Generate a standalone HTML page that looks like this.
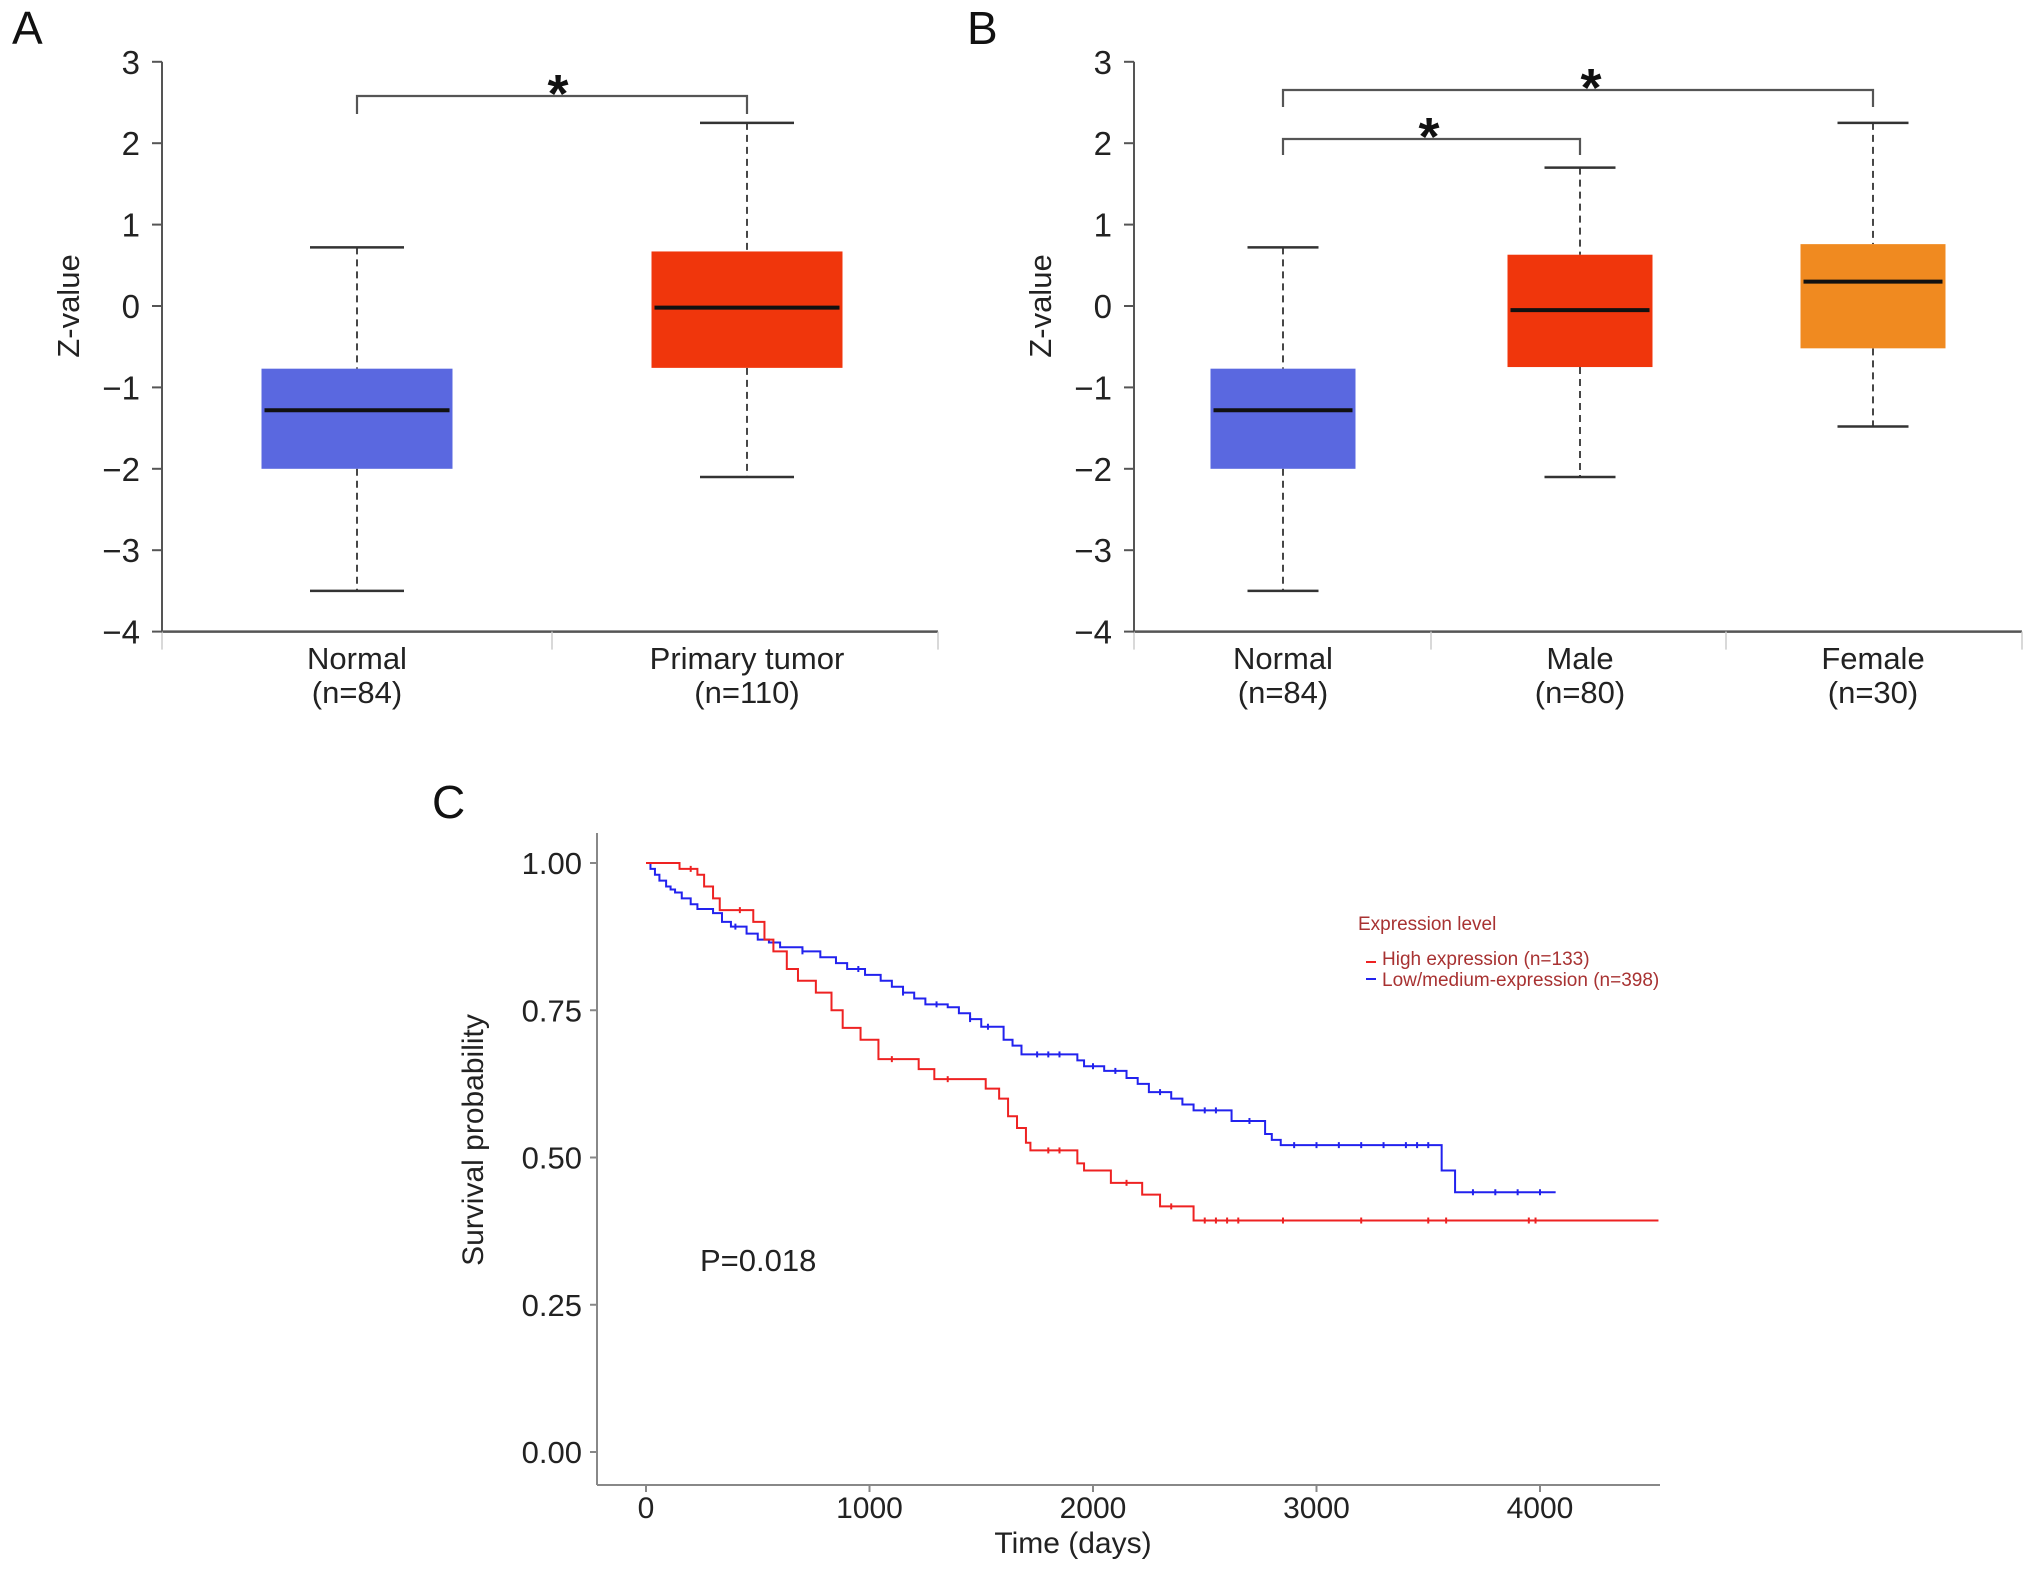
<!DOCTYPE html>
<html><head><meta charset="utf-8">
<style>
html,body{margin:0;padding:0;background:#fff;}
svg{display:block;font-family:"Liberation Sans",Arial,sans-serif;}
</style></head>
<body>
<svg id="fig" width="2032" height="1573" viewBox="0 0 2032 1573" xmlns="http://www.w3.org/2000/svg">
<text x="12" y="44" font-size="46" fill="#111">A</text>
<text x="967" y="44" font-size="46" fill="#111">B</text>
<text x="432" y="818" font-size="46" fill="#111">C</text>
<g id="pa"></g>
<g id="pb"></g>
<g id="pc"></g>
</svg>
<script>
// ---- Panel A data ----
const catsA = ["Normal", "Primary tumor"];
const nA = ["(n=84)", "(n=110)"];
const hiA = [0.72, 2.25];
const q3A = [-0.77, 0.67];
const medA = [-1.28, -0.02];
const q1A = [-2.0, -0.76];
const loA = [-3.5, -2.1];
const colA = ["#5a68e0", "#f0360c"];
// ---- Panel B data ----
const catsB = ["Normal", "Male", "Female"];
const nB = ["(n=84)", "(n=80)", "(n=30)"];
const hiB = [0.72, 1.7, 2.25];
const q3B = [-0.77, 0.63, 0.76];
const medB = [-1.28, -0.05, 0.3];
const q1B = [-2.0, -0.75, -0.52];
const loB = [-3.5, -2.1, -1.48];
const colB = ["#5a68e0", "#f0360c", "#f08a20"];
const zTicks = [3, 2, 1, 0, -1, -2, -3, -4];
// ---- Panel C data ----
const redT = [0,150,230,260,300,330,480,530,570,630,680,760,830,880,960,1040,1220,1290,1520,1580,1620,1660,1700,1720,1930,1960,2080,2220,2300,2450,4530];
const redS = [1.0,0.99,0.98,0.96,0.94,0.92,0.9,0.87,0.85,0.82,0.8,0.78,0.75,0.72,0.7,0.667,0.65,0.633,0.617,0.6,0.57,0.55,0.525,0.512,0.49,0.478,0.457,0.437,0.417,0.393,0.393];
const bluT = [0,20,40,60,90,110,130,160,200,230,300,340,380,450,500,550,600,700,780,850,900,980,1050,1100,1150,1200,1250,1350,1400,1450,1500,1600,1640,1680,1930,1960,2050,2150,2200,2250,2350,2400,2450,2620,2770,2800,2840,3560,3620,4070];
const bluS = [1.0,0.99,0.98,0.97,0.96,0.955,0.95,0.94,0.93,0.922,0.915,0.9,0.892,0.88,0.87,0.865,0.857,0.85,0.84,0.83,0.82,0.81,0.8,0.79,0.78,0.77,0.76,0.755,0.745,0.735,0.722,0.7,0.69,0.675,0.665,0.655,0.647,0.635,0.625,0.611,0.6,0.59,0.58,0.562,0.54,0.53,0.521,0.478,0.441,0.441];
const redCens = [200,420,1100,1350,1800,1850,2150,2350,2500,2550,2600,2650,2850,3200,3500,3580,3950,3980];
const bluCens = [400,700,950,1150,1300,1450,1530,1750,1800,1850,2000,2100,2300,2500,2550,2700,2900,3000,3100,3200,3300,3400,3450,3500,3700,3800,3900,4000];
const survTicks = [1.0, 0.75, 0.5, 0.25, 0.0];
const survTickLabels = ["1.00","0.75","0.50","0.25","0.00"];
const timeTicks = [0,1000,2000,3000,4000];

const NS = "http://www.w3.org/2000/svg";
function mk(parent, tag, attrs, text){
  const e = document.createElementNS(NS, tag);
  for (const k in attrs) e.setAttribute(k, attrs[k]);
  if (text !== undefined) e.textContent = text;
  parent.appendChild(e);
  return e;
}

function boxPanel(g, axX, axEnd, sepXs, centers, cats, ns, hi, q3, med, q1, lo, cols, boxW, capW, tickRight, zlabX, brackets){
  const y = v => 306 - v * 81.4;
  let e = mk(g, "line", {x1:axX, y1:y(3), x2:axX, y2:y(-4), stroke:"#555", "stroke-width":2});
  
  
  e = mk(g, "line", {x1:axX, y1:y(-4), x2:axEnd, y2:y(-4), stroke:"#555", "stroke-width":2.5});
  
  
  sepXs.forEach(sx => {
    const t = mk(g, "line", {x1:sx, y1:y(-4), x2:sx, y2:y(-4)+18, stroke:"#ccc", "stroke-width":1.5});
    
    
  });
  zTicks.forEach(v => {
    const t = mk(g, "line", {x1:axX-10, y1:y(v), x2:axX, y2:y(v), stroke:"#555", "stroke-width":2});
    
    
    const lb = mk(g, "text", {x:tickRight, y:y(v)+12, "font-size":33, "text-anchor":"end", fill:"#222"}, v < 0 ? "\u2212" + Math.abs(v) : String(v));
    
    
  });
  const zl = mk(g, "text", {x:zlabX, y:306, "font-size":31, "text-anchor":"middle", fill:"#222", transform:`rotate(-90 ${zlabX} 306)`, dy:11}, "Z-value");
  
  
  centers.forEach((cx, i) => {
    const w1 = mk(g, "line", {x1:cx, y1:y(hi[i]), x2:cx, y2:y(q3[i]), stroke:"#333", "stroke-width":1.8, "stroke-dasharray":"7,5"});
    
    
    const w2 = mk(g, "line", {x1:cx, y1:y(q1[i]), x2:cx, y2:y(lo[i]), stroke:"#333", "stroke-width":1.8, "stroke-dasharray":"7,5"});
    
    
    const c1 = mk(g, "line", {x1:cx-capW/2, y1:y(hi[i]), x2:cx+capW/2, y2:y(hi[i]), stroke:"#333", "stroke-width":2.5});
    
    
    const c2 = mk(g, "line", {x1:cx-capW/2, y1:y(lo[i]), x2:cx+capW/2, y2:y(lo[i]), stroke:"#333", "stroke-width":2.5});
    
    
    const b = mk(g, "rect", {x:cx-boxW/2, y:y(q3[i]), width:boxW, height:y(q1[i])-y(q3[i]), fill:cols[i]});
    
    
    const m = mk(g, "line", {x1:cx-boxW/2+3, y1:y(med[i]), x2:cx+boxW/2-3, y2:y(med[i]), stroke:"#111", "stroke-width":4});
    
    
    const l1 = mk(g, "text", {x:cx, y:669, "font-size":31, "text-anchor":"middle", fill:"#222"}, cats[i]);
    
    
    const l2 = mk(g, "text", {x:cx, y:703, "font-size":31, "text-anchor":"middle", fill:"#222"}, ns[i]);
    
    
  });
  brackets.forEach(br => {
    const p = mk(g, "path", {d:`M${br[0]} ${br[3]} V${br[2]} H${br[1]} V${br[3]}`, fill:"none", stroke:"#555", "stroke-width":2.2});
    
    
    const s = mk(g, "text", {x:br[4], y:br[2]+16, "font-size":54, "font-weight":"bold", "text-anchor":"middle", fill:"#111"}, "*");
    
    
  });
}

boxPanel(document.getElementById("pa"), 162, 938, [162,552,938], [357,747], catsA, nA, hiA, q3A, medA, q1A, loA, colA, 191, 94, 140, 68,
  [[357,747,96,114,558]]);
boxPanel(document.getElementById("pb"), 1134, 2022, [1134,1431,1726,2022], [1283,1580,1873], catsB, nB, hiB, q3B, medB, q1B, loB, colB, 145, 71, 1112, 1040,
  [[1283,1873,90,107,1591],[1283,1580,139,155,1429]]);

// ---- Panel C ----
(function(){
  const g = document.getElementById("pc");
  const x = t => 646 + t * 0.2235;
  const y = s => 1452 - s * 589;
  let e = mk(g, "line", {x1:597, y1:833, x2:597, y2:1485, stroke:"#888", "stroke-width":2});
  
  
  e = mk(g, "line", {x1:597, y1:1485, x2:1660, y2:1485, stroke:"#888", "stroke-width":2});
  
  
  survTicks.forEach((v, i) => {
    const t = mk(g, "line", {x1:590, y1:y(v), x2:597, y2:y(v), stroke:"#888", "stroke-width":2});
    
    
    const l = mk(g, "text", {x:582, y:y(v)+11, "font-size":31, "text-anchor":"end", fill:"#222"}, survTickLabels[i]);
    
    
  });
  timeTicks.forEach(v => {
    const t = mk(g, "line", {x1:x(v), y1:1485, x2:x(v), y2:1492, stroke:"#888", "stroke-width":2});
    
    
    const l = mk(g, "text", {x:x(v), y:1518, "font-size":30, "text-anchor":"middle", fill:"#222"}, String(v));
    
    
  });
  let tl = mk(g, "text", {x:1073, y:1553, "font-size":30, "text-anchor":"middle", fill:"#222"}, "Time (days)");
  
  
  tl = mk(g, "text", {x:473, y:1140, dy:10, "font-size":30, "text-anchor":"middle", fill:"#222", transform:"rotate(-90 473 1140)"}, "Survival probability");
  
  
  tl = mk(g, "text", {x:700, y:1271, "font-size":31, fill:"#222"}, "P=0.018");
  
  
  function stepPath(T, S){
    let d = `M${x(T[0])} ${y(S[0])}`;
    for (let i = 1; i < T.length; i++) d += ` H${x(T[i])} V${y(S[i])}`;
    return d;
  }
  function survAt(T, S, t){ let s = S[0]; for (let i=0;i<T.length;i++) if (T[i] <= t) s = S[i]; return s; }
  const bp = mk(g, "path", {d:stepPath(bluT, bluS), fill:"none", stroke:"#2222ee", "stroke-width":2});
  
  
  const rp = mk(g, "path", {d:stepPath(redT, redS), fill:"none", stroke:"#ee2222", "stroke-width":2});
  
  
  bluCens.forEach(t => {
    const c = mk(g, "line", {x1:x(t), y1:y(survAt(bluT,bluS,t))-3, x2:x(t), y2:y(survAt(bluT,bluS,t))+3, stroke:"#2222ee", "stroke-width":2});
    
    
  });
  redCens.forEach(t => {
    const c = mk(g, "line", {x1:x(t), y1:y(survAt(redT,redS,t))-3, x2:x(t), y2:y(survAt(redT,redS,t))+3, stroke:"#ee2222", "stroke-width":2});
    
    
  });
  let lg = mk(g, "text", {x:1358, y:930, "font-size":19, fill:"#a83232"}, "Expression level");
  
  
  lg = mk(g, "line", {x1:1366, y1:962, x2:1376, y2:962, stroke:"#ee2222", "stroke-width":2});
  
  
  lg = mk(g, "text", {x:1382, y:965, "font-size":19, fill:"#a83232"}, "High expression (n=133)");
  
  
  lg = mk(g, "line", {x1:1366, y1:979, x2:1376, y2:979, stroke:"#2222ee", "stroke-width":2});
  
  
  lg = mk(g, "text", {x:1382, y:986, "font-size":19, fill:"#a83232"}, "Low/medium-expression (n=398)");
  
  
})();
</script>
</body></html>
